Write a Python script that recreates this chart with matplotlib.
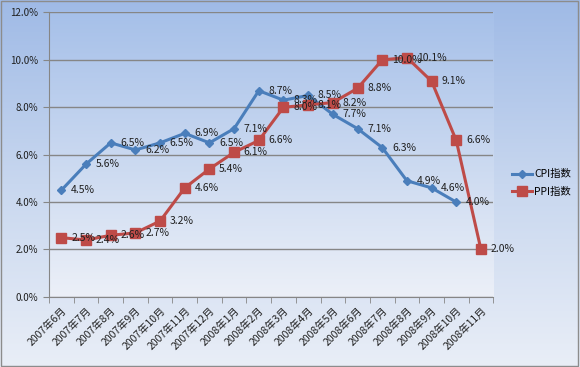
import numpy as np
import matplotlib
matplotlib.use("Agg")
import matplotlib.pyplot as plt
from matplotlib.colors import LinearSegmentedColormap

plt.rcParams['font.family'] = ['Noto Sans CJK SC', 'DejaVu Sans']

months = ['2007年6月', '2007年7月', '2007年8月', '2007年9月', '2007年10月', '2007年11月',
          '2007年12月', '2008年1月', '2008年2月', '2008年3月', '2008年4月', '2008年5月',
          '2008年6月', '2008年7月', '2008年8月', '2008年9月', '2008年10月', '2008年11月']
cpi = [4.5, 5.6, 6.5, 6.2, 6.5, 6.9, 6.5, 7.1, 8.7, 8.3, 8.5, 7.7, 7.1, 6.3, 4.9, 4.6, 4.0]
ppi = [2.5, 2.4, 2.6, 2.7, 3.2, 4.6, 5.4, 6.1, 6.6, 8.0, 8.1, 8.2, 8.8, 10.0, 10.1, 9.1, 6.6, 2.0]
yticks = [0, 2, 4, 6, 8, 10, 12]

blue = '#4A7EBB'
red = '#BE4B48'
txt = '#202020'

fig = plt.figure(figsize=(5.8, 3.67), dpi=100)

# background gradient over whole figure
bg = fig.add_axes([0, 0, 1, 1], zorder=-10)
cmap = LinearSegmentedColormap.from_list('bg', ['#E9EEF7', '#C8D7EF', '#9FBAE6'])
grad = np.linspace(0, 1, 256).reshape(-1, 1)
bg.imshow(grad, cmap=cmap, aspect='auto', origin='lower', extent=[0, 1, 0, 1])
bg.set_xlim(0, 1)
bg.set_ylim(0, 1)
bg.axis('off')
bg.add_patch(plt.Rectangle((0.002, 0.003), 0.995, 0.993, fill=False, ec='#8C8C8C', lw=1))

ax = fig.add_axes([0.0845, 0.191, 0.766, 0.775])
ax.set_facecolor('none')
cmap2 = LinearSegmentedColormap.from_list('pa', ['#ECF0F8', '#C9D8F0', '#A6C0E9'])
ax.imshow(grad, cmap=cmap2, aspect='auto', origin='lower', extent=[0, 1, 0, 1],
          transform=ax.transAxes, zorder=0)

x = np.arange(len(months))
xc = np.arange(len(cpi))
ax.plot(xc, cpi, color=blue, lw=2.2, marker='D', ms=4.5, zorder=3, label='CPI指数')
ax.plot(x, ppi, color=red, lw=2.2, marker='s', ms=6.5, zorder=3, label='PPI指数')

for i, v in enumerate(cpi):
    ax.annotate(f'{v:.1f}%', (i, v), xytext=(7, 0), textcoords='offset points',
                va='center', ha='left', fontsize=7.5, color=txt, zorder=4)
for i, v in enumerate(ppi):
    ax.annotate(f'{v:.1f}%', (i, v), xytext=(7, 0), textcoords='offset points',
                va='center', ha='left', fontsize=7.5, color=txt, zorder=4)

ax.set_xlim(-0.5, len(months) - 0.5)
ax.set_ylim(0, 12)
ax.set_yticks(yticks)
ax.set_yticklabels([f'{v:.1f}%' for v in yticks], fontsize=7, color=txt)
ax.yaxis.grid(True, color='#868686', lw=1)
ax.set_axisbelow(True)

ax.set_xticks(x)
ax.set_xticklabels(months, rotation=45, ha='right', rotation_mode='anchor', fontsize=7.5, color=txt)
ax.tick_params(axis='x', length=0, pad=6)
ax.set_xticks(np.arange(-0.5, len(months)), minor=True)
ax.tick_params(axis='x', which='minor', length=4, color='#868686', direction='out')
ax.tick_params(axis='y', length=4, color='#868686', direction='out')

for s in ['top', 'right']:
    ax.spines[s].set_visible(False)
for s in ['left', 'bottom']:
    ax.spines[s].set_color('#868686')

ax.legend(loc='center left', bbox_to_anchor=(1.02, 0.40), frameon=False, fontsize=7.5,
          handlelength=2.0, handletextpad=0.2, labelspacing=0.75)

fig.savefig('out.png', dpi=100)
